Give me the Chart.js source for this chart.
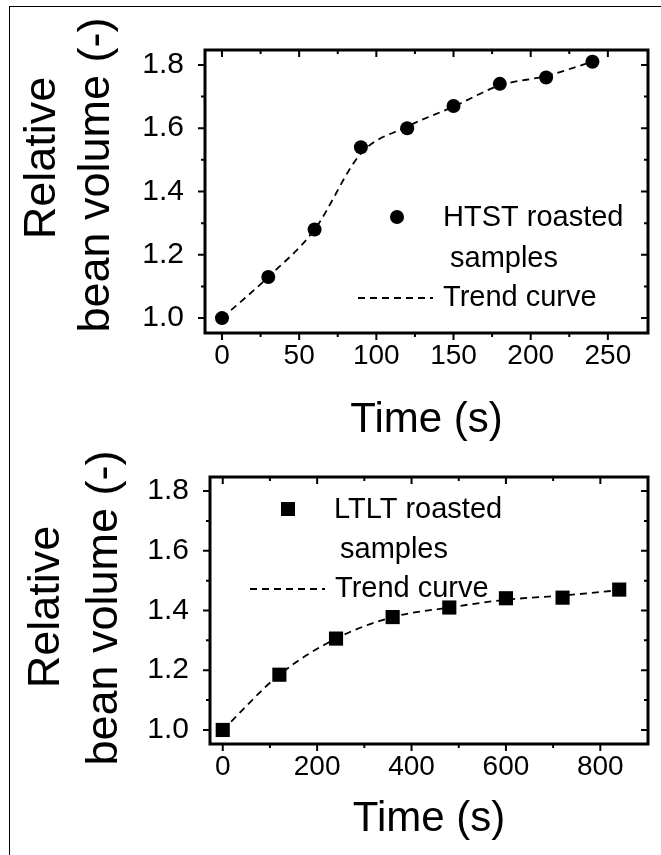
<!DOCTYPE html>
<html>
<head>
<meta charset="utf-8">
<title>Relative bean volume</title>
<script src="https://cdn.jsdelivr.net/npm/chart.js@4.4.1/dist/chart.umd.min.js"></script>
<style>
  html, body { margin: 0; padding: 0; background: #fff; }
  #pagina { position: relative; width: 661px; height: 855px; overflow: hidden; background: #fff; }
  #borda { position: absolute; left: 9px; top: 6px; width: 700px; height: 900px;
           border-left: 1.5px solid #000; border-top: 1.5px solid #000; }
  .caixa { position: absolute; left: 0; width: 661px; }
  #caixaHtst { top: 0; height: 446px; }
  #caixaLtlt { top: 446px; height: 409px; }
</style>
</head>
<body>
<div id="pagina">
  <div id="borda"></div>
  <div class="caixa" id="caixaHtst"><canvas id="htstChart" width="661" height="446"></canvas></div>
  <div class="caixa" id="caixaLtlt"><canvas id="ltltChart" width="661" height="409"></canvas></div>
</div>
<script>
// Dados
const htstTime = [0, 30, 60, 90, 120, 150, 180, 210, 240];
const htstVolume = [1.00, 1.13, 1.28, 1.54, 1.60, 1.67, 1.74, 1.76, 1.81];
const htstTrend = [1.00, 1.13, 1.28, 1.52, 1.605, 1.668, 1.735, 1.765, 1.81];

const ltltTime = [0, 120, 240, 360, 480, 600, 720, 840];
const ltltVolume = [1.00, 1.185, 1.306, 1.378, 1.41, 1.441, 1.443, 1.47];
const ltltTrend = [1.00, 1.185, 1.306, 1.378, 1.41, 1.436, 1.45, 1.468];

// Marcas dos eixos
const yTicks = [1.0, 1.2, 1.4, 1.6, 1.8];
const yMinor = [1.1, 1.3, 1.5, 1.7];
const htstTicks = [0, 50, 100, 150, 200, 250];
const htstMinor = [25, 75, 125, 175, 225];
const ltltTicks = [0, 200, 400, 600, 800];
const ltltMinor = [100, 300, 500, 700];

const FONTE = "'Liberation Sans', Arial, Helvetica, sans-serif";

// Moldura do gráfico + tracinhos (maiores e menores) nos quatro lados
const molduraPlugin = {
  id: "moldura",
  afterDatasetsDraw(chart, args, opts) {
    const { ctx, chartArea: a, scales: { x, y } } = chart;
    ctx.save();
    ctx.strokeStyle = "#000";
    ctx.lineWidth = 2;
    ctx.beginPath();
    const marcasX = (vals, len) => {
      vals.forEach((v) => {
        const px = x.getPixelForValue(v);
        ctx.moveTo(px, a.bottom); ctx.lineTo(px, a.bottom + len); // para fora
        ctx.moveTo(px, a.top); ctx.lineTo(px, a.top + len);       // para dentro
      });
    };
    const marcasY = (vals, len) => {
      vals.forEach((v) => {
        const py = y.getPixelForValue(v);
        ctx.moveTo(a.left - len, py); ctx.lineTo(a.left, py);
        ctx.moveTo(a.right - len, py); ctx.lineTo(a.right, py);
      });
    };
    marcasX(opts.xMajor, 7);
    marcasX(opts.xMinor, 4);
    marcasY(yTicks, 7);
    marcasY(yMinor, 4);
    ctx.stroke();
    ctx.lineWidth = 3;
    ctx.strokeRect(a.left, a.top, a.right - a.left, a.bottom - a.top);
    ctx.restore();
  },
};

// Título do eixo Y em duas linhas + legenda dentro da área
const textosPlugin = {
  id: "textos",
  afterDraw(chart, args, opts) {
    const { ctx, chartArea: a } = chart;
    ctx.save();
    ctx.fillStyle = "#000";
    ctx.strokeStyle = "#000";

    // título Y (girado)
    ctx.font = "45px " + FONTE;
    ctx.textAlign = "center";
    ctx.textBaseline = "middle";
    opts.tituloY.forEach((t) => {
      ctx.save();
      ctx.translate(t.x, t.y);
      ctx.rotate(-Math.PI / 2);
      ctx.fillText(t.texto, 0, 0);
      ctx.restore();
    });

    // legenda
    const L = opts.legenda;
    const mx = a.left + L.marcador[0];
    const my = a.top + L.marcador[1];
    if (L.tipo === "circle") {
      ctx.beginPath();
      ctx.arc(mx, my, 7, 0, Math.PI * 2);
      ctx.fill();
    } else {
      ctx.fillRect(mx - 7, my - 7, 14, 14);
    }
    ctx.beginPath();
    ctx.setLineDash([7, 5]);
    ctx.lineWidth = 1.8;
    ctx.moveTo(a.left + L.traco[0], a.top + L.traco[2]);
    ctx.lineTo(a.left + L.traco[1], a.top + L.traco[2]);
    ctx.stroke();
    ctx.setLineDash([]);

    ctx.font = "29px " + FONTE;
    ctx.textAlign = "left";
    L.linhas.forEach((l) => {
      ctx.fillText(l.texto, a.left + l.x, a.top + l.y);
    });
    ctx.restore();
  },
};

function pontos(xs, ys) {
  return xs.map((v, i) => ({ x: v, y: ys[i] }));
}

function criarGrafico(id, cfg) {
  const ctx = document.getElementById(id).getContext("2d");
  return new Chart(ctx, {
    type: "scatter",
    data: {
      datasets: [
        {
          label: cfg.rotulo,
          data: pontos(cfg.tempo, cfg.volume),
          pointStyle: cfg.estilo,
          pointRadius: cfg.raio,
          pointHoverRadius: cfg.raio,
          backgroundColor: "#000",
          borderColor: "#000",
          borderWidth: 0,
          showLine: false,
        },
        {
          label: "Trend curve",
          data: pontos(cfg.tempo, cfg.tendencia),
          showLine: true,
          borderColor: "#000",
          borderWidth: 1.8,
          borderDash: [7, 5],
          pointRadius: 0,
          cubicInterpolationMode: "monotone",
          fill: false,
        },
      ],
    },
    options: {
      responsive: false,
      animation: false,
      layout: { padding: { left: 0, right: 13, top: cfg.topo, bottom: cfg.baixo } },
      plugins: {
        legend: { display: false },
        tooltip: { enabled: false },
        moldura: { xMajor: cfg.xTicks, xMinor: cfg.xMinor },
        textos: { tituloY: cfg.tituloY, legenda: cfg.legenda },
      },
      scales: {
        x: {
          type: "linear",
          min: cfg.xMin,
          max: cfg.xMax,
          grid: { display: false },
          border: { display: false },
          afterBuildTicks: (s) => { s.ticks = cfg.xTicks.map((v) => ({ value: v })); },
          afterFit: (s) => { s.height = cfg.alturaX; },
          ticks: {
            color: "#000",
            padding: -2,
            maxRotation: 0,
            autoSkip: false,
            font: { family: FONTE, size: 28 },
            callback: (v) => String(v),
          },
          title: {
            display: true,
            text: "Time (s)",
            color: "#000",
            font: { family: FONTE, size: 42 },
            padding: { top: 0, bottom: 0 },
          },
        },
        y: {
          type: "linear",
          min: 0.953,
          max: 1.847,
          grid: { display: false },
          border: { display: false },
          afterBuildTicks: (s) => { s.ticks = yTicks.map((v) => ({ value: v })); },
          afterFit: (s) => { s.width = cfg.larguraY; },
          ticks: {
            color: "#000",
            padding: 13,
            autoSkip: false,
            font: { family: FONTE, size: 30 },
            callback: (v) => Number(v).toFixed(1),
          },
        },
      },
    },
    plugins: [molduraPlugin, textosPlugin],
  });
}

// Painel de cima — HTST
criarGrafico("htstChart", {
  rotulo: "HTST roasted samples",
  tempo: htstTime,
  volume: htstVolume,
  tendencia: htstTrend,
  estilo: "circle",
  raio: 7,
  xMin: -11,
  xMax: 276,
  xTicks: htstTicks,
  xMinor: htstMinor,
  topo: 50,
  baixo: 0,
  alturaX: 113,
  larguraY: 205,
  tituloY: [
    { texto: "Relative", x: 43, y: 158 },
    { texto: "bean volume (-)", x: 97, y: 175 },
  ],
  legenda: {
    tipo: "circle",
    marcador: [192, 167],
    traco: [153, 228, 248],
    linhas: [
      { texto: "HTST roasted", x: 238, y: 168 },
      { texto: "samples", x: 245, y: 209 },
      { texto: "Trend curve", x: 238, y: 248 },
    ],
  },
});

// Painel de baixo — LTLT
criarGrafico("ltltChart", {
  rotulo: "LTLT roasted samples",
  tempo: ltltTime,
  volume: ltltVolume,
  tendencia: ltltTrend,
  estilo: "rect",
  raio: 10,
  xMin: -27,
  xMax: 901,
  xTicks: ltltTicks,
  xMinor: ltltMinor,
  topo: 14,
  baixo: 10,
  alturaX: 101,
  larguraY: 210,
  tituloY: [
    { texto: "Relative", x: 47, y: 161 },
    { texto: "bean volume (-)", x: 105, y: 162 },
  ],
  legenda: {
    tipo: "rect",
    marcador: [78, 32],
    traco: [40, 115, 112],
    linhas: [
      { texto: "LTLT roasted", x: 124, y: 33 },
      { texto: "samples", x: 130, y: 73 },
      { texto: "Trend curve", x: 125, y: 112 },
    ],
  },
});
</script>
</body>
</html>
